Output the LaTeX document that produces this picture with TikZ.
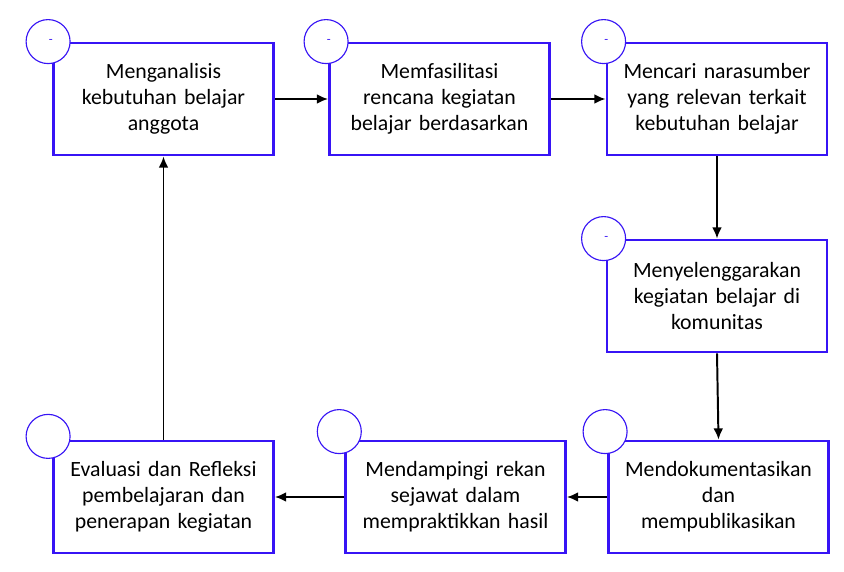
\documentclass[tikz,border=0pt]{standalone}
\usepackage{fontspec}
\setmainfont{Carlito}
\usepackage{xcolor}
\usepackage{tikz}
\usetikzlibrary{arrows.meta,positioning,calc}
\definecolor{kotakbiru}{RGB}{55,20,245}
\tikzset{
  langkah/.style={rectangle,draw=kotakbiru,line width=2pt,fill=white,minimum width=5.5cm,minimum height=2.8cm,inner sep=2pt,align=center,text width=5.3cm,font=\fontsize{15.5}{18.5}\selectfont},
  bulat/.style={circle,draw=kotakbiru,line width=0.8pt,fill=white,minimum size=1.1cm,inner sep=0pt,font=\fontsize{9}{9}\selectfont,text=kotakbiru},
  alur/.style={-{Latex[length=8pt,width=7pt]},line width=1.4pt,black}
}

\begin{document}
\begin{tikzpicture}[>=latex]
  \useasboundingbox (0,0) rectangle (21.1,-14.3);
  \node[langkah] (b1) at (4.0875,-2.475) {Menganalisis\\ kebutuhan belajar\\ anggota};
  \node[langkah] (b2) at (10.9875,-2.475) {Memfasilitasi\\ rencana kegiatan\\ belajar berdasarkan};
  \node[langkah] (b3) at (17.925,-2.475) {Mencari narasumber\\ yang relevan terkait\\ kebutuhan belajar};
  \node[langkah] (b4) at (17.925,-7.4) {Menyelenggarakan\\ kegiatan belajar di\\ komunitas};
  \node[langkah] (b5) at (17.9625,-12.425) {Mendokumentasikan\\ dan\\ mempublikasikan};
  \node[langkah] (b6) at (11.3875,-12.425) {Mendampingi rekan\\ sejawat dalam\\ mempraktikkan hasil};
  \node[langkah] (b7) at (4.0875,-12.425) {Evaluasi dan Refleksi\\ pembelajaran dan\\ penerapan kegiatan};
  \node[bulat] (c1) at ($(b1.north west)+(-0.1,0)$) {\hspace{4pt}-};
  \node[bulat] (c2) at ($(b2.north west)+(-0.05,0)$) {\hspace{4pt}-};
  \node[bulat] (c3) at ($(b3.north west)+(-0.05,0)$) {\hspace{4pt}-};
  \node[bulat] (c4) at ($(b4.north west)+(-0.05,0)$) {\hspace{4pt}-};
  \node[bulat] (c5) at ($(b5.north west)+(-0.05,0.2)$) {};
  \node[bulat] (c6) at ($(b6.north west)+(-0.12,0.2)$) {};
  \node[bulat] (c7) at ($(b7.north west)+(-0.1,0.08)$) {};
  \draw[alur] (b1) -- (b2);
  \draw[alur] (b2) -- (b3);
  \draw[alur] (b3) -- (b4);
  \draw[alur] (b4.south) -- (b5.north);
  \draw[alur] (b5) -- (b6);
  \draw[alur] (b6) -- (b7);
  \draw[alur] (b7) -- (b1);
\end{tikzpicture}
\end{document}
